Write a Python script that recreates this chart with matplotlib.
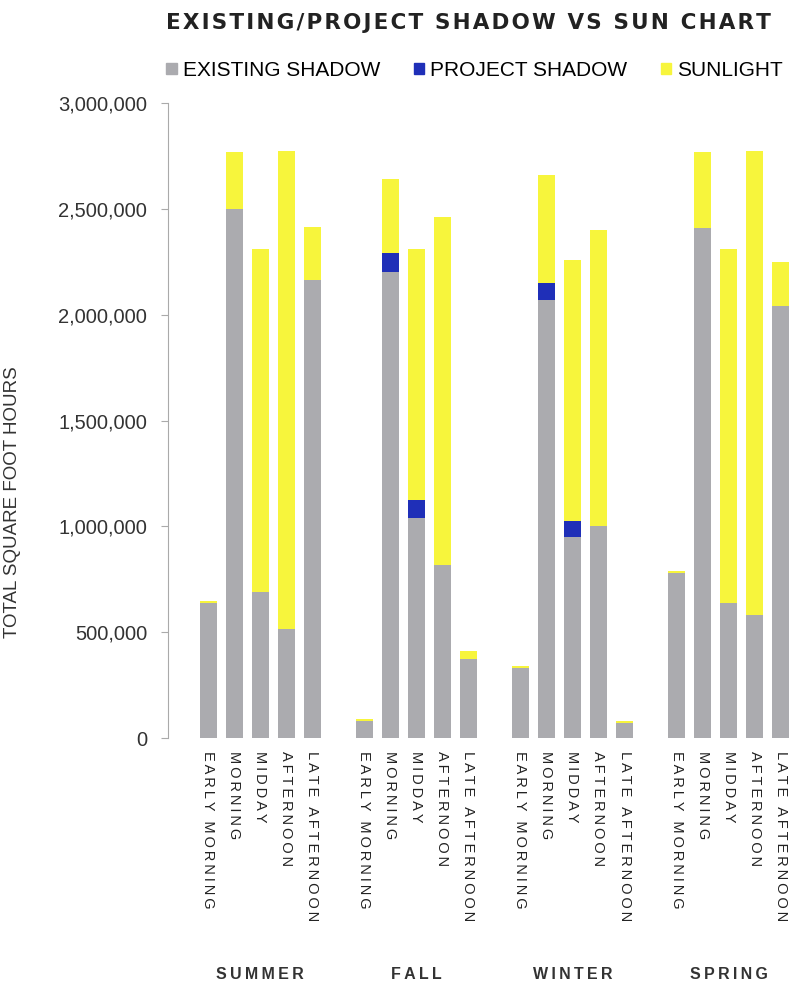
import numpy as np
import matplotlib.pyplot as plt
from matplotlib import font_manager
from matplotlib.ticker import FuncFormatter
from matplotlib.patches import Patch

seasons = ['SUMMER', 'FALL', 'WINTER', 'SPRING']
periods = ['EARLY MORNING', 'MORNING', 'MIDDAY', 'AFTERNOON', 'LATE AFTERNOON']

# values per season, in period order
existing = [640000, 2500000, 690000, 515000, 2165000,
            80000, 2200000, 1040000, 820000, 375000,
            330000, 2070000, 950000, 1000000, 70000,
            780000, 2410000, 640000, 580000, 2040000]
project = [0, 0, 0, 0, 0,
           0, 90000, 85000, 0, 0,
           0, 80000, 75000, 0, 0,
           0, 0, 0, 0, 0]
sunlight = [8000, 270000, 1620000, 2260000, 250000,
            10000, 350000, 1185000, 1640000, 35000,
            10000, 510000, 1235000, 1400000, 10000,
            10000, 360000, 1670000, 2195000, 210000]

c_exist = '#ababaf'
c_proj = '#1f2fb8'
c_sun = '#f7f53c'
fam = ['Liberation Sans', 'DejaVu Sans']

# narrow face for the title if there is one
installed = {f.name for f in font_manager.fontManager.ttflist}
if 'Liberation Sans Narrow' in installed:
    title_fam, title_size, title_sep = ['Liberation Sans Narrow'], 24, '\u2009'
else:
    title_fam, title_size, title_sep = ['DejaVu Sans'], 15.5, '\u200a'

fig = plt.figure(figsize=(7.94, 9.92), dpi=100)
ax = fig.add_axes([0.2116, 0.256, 0.788, 0.640])

# one empty slot between seasons
x = []
for s in range(len(seasons)):
    for p in range(len(periods)):
        x.append(s * (len(periods) + 1) + p)
x = np.array(x)
ex = np.array(existing)
pr = np.array(project)
su = np.array(sunlight)

w = 0.65
ax.bar(x, ex, w, color=c_exist)
ax.bar(x, pr, w, bottom=ex, color=c_proj)
ax.bar(x, su, w, bottom=ex + pr, color=c_sun)

ax.set_xlim(-1.54, 22.5)
ax.set_ylim(0, 3000000)
ax.set_yticks(np.arange(0, 3000001, 500000))
ax.yaxis.set_major_formatter(FuncFormatter(lambda v, _: f'{int(v):,}'))
for lab in ax.get_yticklabels():
    lab.set_family(fam)
    lab.set_fontsize(14.5)
    lab.set_color('#333333')
ax.tick_params(axis='y', length=5, color='#aaaaaa', pad=10)

def spaced(t, sep='\u2009'):
    return sep.join(t)

ax.set_xticks(x)
ax.set_xticklabels([spaced(p) for s in seasons for p in periods],
                   rotation=-90, fontsize=10.5, family=fam, color='#222222')
ax.tick_params(axis='x', length=0, pad=9)

for side in ['top', 'right', 'bottom']:
    ax.spines[side].set_visible(False)
ax.spines['left'].set_color('#aaaaaa')

ax.set_ylabel('TOTAL SQUARE FOOT HOURS', fontsize=13.5, family=fam, color='#333333')
ax.yaxis.set_label_coords(-0.235, 0.372)

for i, s in enumerate(seasons):
    cx = i * (len(periods) + 1) + 2
    ax.text(cx, -0.372, spaced(s), transform=ax.get_xaxis_transform(),
            ha='center', va='center', fontsize=11.5, family=fam,
            fontweight='bold', color='#333333')

fig.text(0.59, 0.977, spaced('EXISTING/PROJECT SHADOW VS SUN CHART', title_sep),
         ha='center', va='center', fontsize=title_size, fontweight='bold',
         family=title_fam, color='#222222')

handles = [Patch(color=c_exist), Patch(color=c_proj), Patch(color=c_sun)]
fig.legend(handles, ['EXISTING SHADOW', 'PROJECT SHADOW', 'SUNLIGHT'],
           loc='center', bbox_to_anchor=(0.598, 0.929), ncol=3, frameon=False,
           prop={'family': fam, 'size': 15}, handlelength=0.5, handleheight=0.5,
           handletextpad=0.3, columnspacing=1.6)

fig.savefig('out.png', dpi=100)
